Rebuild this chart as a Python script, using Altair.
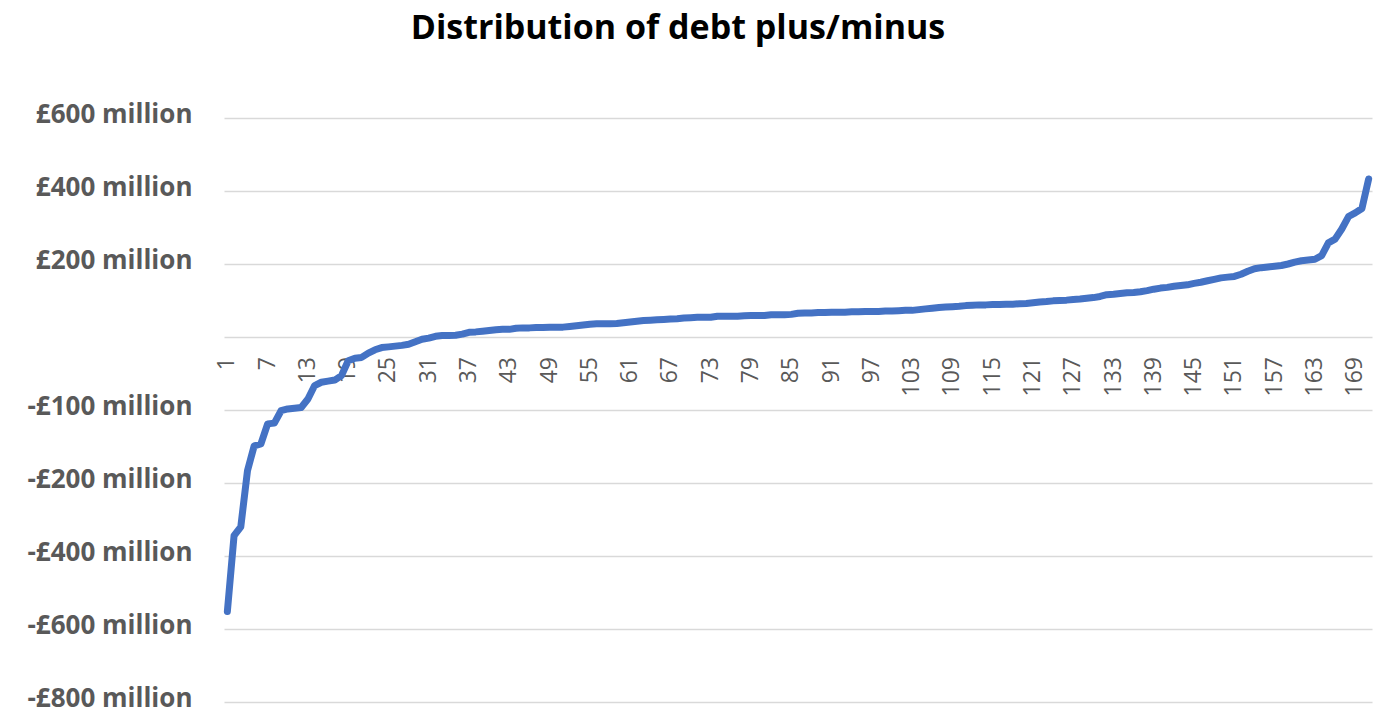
import altair as alt
import pandas as pd

title_text = "Distribution of debt plus/minus"

# Sorted debt plus/minus per entity, in the chart's linear axis units (one gridline = 200)
values = [
    -752, -544, -520, -366, -298, -293, -238, -236, -202, -197,
    -195, -193, -170, -133, -124, -121, -118, -106, -65, -58,
    -56, -44, -35, -29, -27, -25, -23, -20, -13, -6,
    -3, 2, 4, 4, 5, 8, 13, 14, 16, 18,
    20, 21, 21, 24, 25, 25, 26, 26, 27, 27,
    27, 29, 31, 33, 35, 36, 36, 36, 37, 39,
    41, 43, 45, 46, 47, 48, 49, 50, 52, 53,
    54, 54, 54, 57, 57, 57, 57, 58, 59, 59,
    59, 61, 61, 61, 62, 65, 66, 66, 67, 67,
    68, 68, 68, 69, 69, 70, 70, 70, 71, 71,
    72, 73, 73, 75, 77, 79, 81, 82, 83, 84,
    86, 87, 88, 88, 89, 89, 90, 90, 91, 92,
    94, 96, 97, 99, 100, 101, 103, 104, 106, 108,
    111, 116, 117, 119, 121, 122, 124, 127, 131, 134,
    136, 139, 141, 143, 147, 150, 154, 158, 162, 164,
    166, 172, 180, 187, 190, 192, 194, 196, 200, 205,
    209, 211, 213, 223, 258, 268, 296, 330, 340, 352,
    433,
]

tick_values = [600, 400, 200, 0, -200, -400, -600, -800, -1000]
tick_labels = ["£600 million", "£400 million", "£200 million", "",
               "-£100 million", "-£200 million", "-£400 million",
               "-£600 million", "-£800 million"]
x_label_positions = list(range(1, len(values) + 1, 6))

df = pd.DataFrame({"rank": list(range(1, len(values) + 1)), "value": values})
lab_df = pd.DataFrame({
    "rank": x_label_positions,
    "label": [str(v) for v in x_label_positions],
    "value": [0] * len(x_label_positions),
})

label_expr = ""
for v, lab in zip(tick_values, tick_labels):
    label_expr += f"datum.value == {v} ? '{lab}' : "
label_expr += "''"

x_enc = alt.X("rank:Q", scale=alt.Scale(domain=[0.5, len(values) + 0.5], nice=False, zero=False), axis=None)
y_enc = alt.Y(
    "value:Q",
    scale=alt.Scale(domain=[-1000, 600], nice=False, zero=False),
    axis=alt.Axis(
        values=tick_values, labelExpr=label_expr, grid=True, gridColor="#D9D9D9",
        gridWidth=1.5, domain=False, ticks=False, labelPadding=32, labelOffset=-4,
        labelFont="Open Sans", labelFontWeight="bold", labelFontSize=26,
        labelColor="#595959", title=None,
    ),
)

labels = alt.Chart(lab_df).mark_text(
    angle=270, align="right", baseline="middle", dx=-20,
    font="Open Sans", fontSize=23, color="#595959",
).encode(x=x_enc, y=y_enc, text="label:N")

line = alt.Chart(df).mark_line(
    color="#4472C4", strokeWidth=7, strokeCap="round", strokeJoin="round",
).encode(x=x_enc, y=y_enc)

chart = alt.layer(labels, line).properties(
    width=1148,
    height=584,
    title=alt.TitleParams(title_text, font="Open Sans", fontSize=34, fontWeight="bold",
                          color="black", anchor="middle", dx=-120, offset=55),
    autosize=alt.AutoSizeParams(type="none"),
    padding={"left": 224, "top": 118, "right": 11, "bottom": 11},
    background="white",
).configure_view(stroke=None)

chart.save("out.html", embed_options={"renderer": "svg", "actions": False})
